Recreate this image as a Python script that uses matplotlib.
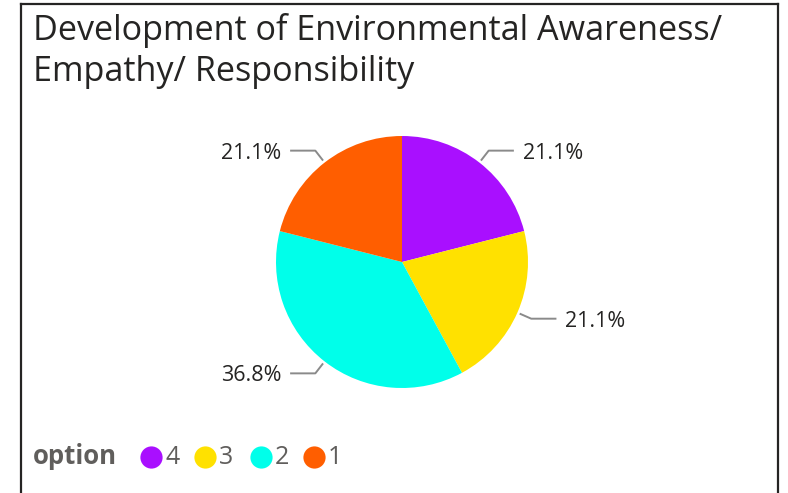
import numpy as np
import matplotlib
matplotlib.use("Agg")
import matplotlib.pyplot as plt
from matplotlib.lines import Line2D

# ---- data ----
categories = ["4", "3", "2", "1"]
values = [4, 4, 7, 4]
colors = ["#A90FFF", "#FFE100", "#00FFEA", "#FF5E00"]
title_lines = ["Development of Environmental Awareness/", "Empathy/ Responsibility"]
legend_title = "option"

W, H = 788, 493
fig = plt.figure(figsize=(W / 100, H / 100), dpi=100)
fig.patch.set_facecolor("white")

# border (left, top, right)
bc = "#252423"
fig.add_artist(Line2D([21 / W, 21 / W], [0, 1 - 4 / H], transform=fig.transFigure, color=bc, lw=1.6))
fig.add_artist(Line2D([21 / W, 778 / W], [1 - 4 / H, 1 - 4 / H], transform=fig.transFigure, color=bc, lw=1.6))
fig.add_artist(Line2D([778 / W, 778 / W], [0, 1 - 4 / H], transform=fig.transFigure, color=bc, lw=1.6))

# title
fig.text(33 / W, 1 - 40 / H, title_lines[0], fontsize=24.6, family="Open Sans", color="#252423", va="baseline", ha="left")
fig.text(33 / W, 1 - 81 / H, title_lines[1], fontsize=24.6, family="Open Sans", color="#252423", va="baseline", ha="left")

# pie axes: radius 1 = 126 px, centre at (402, 262) from top
R = 126
L = 1.7
cx, cy = 402, H - 262
ax = fig.add_axes([(cx - R * L) / W, (cy - R * L) / H, 2 * R * L / W, 2 * R * L / H])

wedges, _ = ax.pie(values, colors=colors, startangle=90, counterclock=False, radius=1,
                   wedgeprops=dict(linewidth=0, edgecolor="none"))
ax.set_xlim(-L, L)
ax.set_ylim(-L, L)
ax.set_aspect("equal")
ax.axis("off")

total = sum(values)
for w, v in zip(wedges, values):
    mid = np.deg2rad((w.theta1 + w.theta2) / 2)
    x0, y0 = 1.02 * np.cos(mid), 1.02 * np.sin(mid)
    x1, y1 = 1.12 * np.cos(mid), 1.12 * np.sin(mid)
    side = 1 if np.cos(mid) >= 0 else -1
    x2 = x1 + side * 0.2
    ax.plot([x0, x1, x2], [y0, y1, y1], color="#8a8a8a", lw=1.4, solid_capstyle="butt", clip_on=False)
    ax.text(x2 + side * 0.07, y1 - 0.02, f"{100 * v / total:.1f}%", ha="left" if side > 0 else "right",
            va="center", fontsize=15.5, family="Open Sans", color="#252423")

# legend
lg_y = 1 - 457 / H
fig.text(33 / W, lg_y, legend_title, fontsize=18.5, fontweight="bold", family="Open Sans",
         color="#605E5C", va="center", ha="left")
xs = [151, 205, 261, 314]
for x, c, lab in zip(xs, colors, categories):
    fig.add_artist(Line2D([x / W], [lg_y], marker="o", markersize=16, color=c, markeredgewidth=0,
                          transform=fig.transFigure, linestyle="none"))
    fig.text((x + 14) / W, lg_y, lab, fontsize=18, family="Open Sans", color="#605E5C", va="center", ha="left")

fig.savefig("out.png", dpi=100, facecolor="white")
